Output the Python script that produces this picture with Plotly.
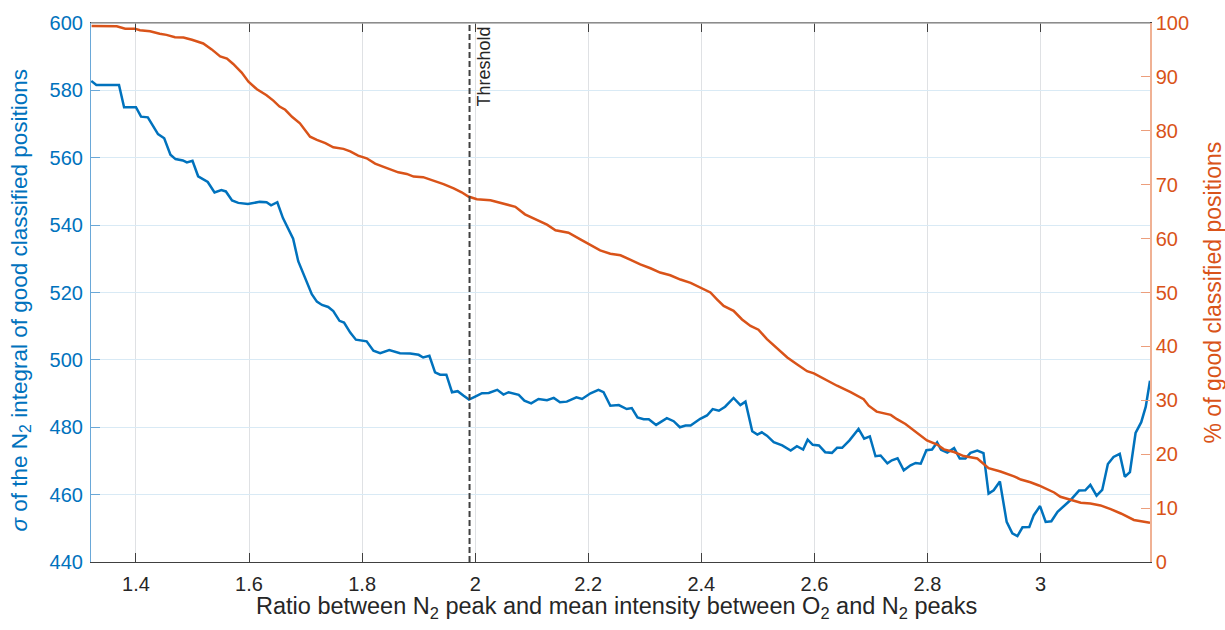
import plotly.graph_objects as go

# --- data -------------------------------------------------------------
# Ratio between N2 peak and mean intensity between O2 and N2 peaks
ratio_sigma = [
    1.321, 1.330, 1.370, 1.379, 1.400, 1.409, 1.421, 1.439, 1.450, 1.461,
    1.470, 1.483, 1.490, 1.500, 1.510, 1.527, 1.539, 1.551, 1.559, 1.570,
    1.581, 1.598, 1.619, 1.631, 1.639, 1.650, 1.660, 1.669, 1.678, 1.687,
    1.699, 1.711, 1.720, 1.729, 1.740, 1.749, 1.760, 1.768, 1.779, 1.789,
    1.808, 1.820, 1.832, 1.848, 1.867, 1.885, 1.900, 1.908, 1.919, 1.929,
    1.938, 1.949, 1.959, 1.969, 1.979, 1.989, 2.000, 2.012, 2.024, 2.039,
    2.050, 2.059, 2.077, 2.087, 2.099, 2.112, 2.127, 2.139, 2.150, 2.162,
    2.179, 2.189, 2.204, 2.218, 2.227, 2.239, 2.254, 2.268, 2.277, 2.287,
    2.298, 2.307, 2.320, 2.339, 2.351, 2.362, 2.372, 2.381, 2.398, 2.410,
    2.420, 2.431, 2.442, 2.457, 2.469, 2.478, 2.490, 2.499, 2.507, 2.516,
    2.528, 2.543, 2.558, 2.569, 2.580, 2.588, 2.597, 2.608, 2.619, 2.631,
    2.640, 2.649, 2.662, 2.678, 2.688, 2.698, 2.708, 2.717, 2.729, 2.737,
    2.747, 2.758, 2.770, 2.779, 2.788, 2.798, 2.808, 2.817, 2.824, 2.835,
    2.847, 2.857, 2.867, 2.876, 2.888, 2.899, 2.908, 2.917, 2.928, 2.940,
    2.950, 2.959, 2.968, 2.980, 2.988, 2.999, 3.009, 3.019, 3.030, 3.041,
    3.053, 3.068, 3.079, 3.088, 3.099, 3.109, 3.119, 3.129, 3.140, 3.149,
    3.158, 3.168, 3.178, 3.186, 3.1935,
]
# sigma of the N2 integral of good classified positions
sigma_n2 = [
    582.8, 581.6, 581.6, 575.0, 575.0, 572.2, 572.0, 567.0, 565.8, 560.9,
    559.6, 559.2, 558.6, 559.1, 554.5, 552.8, 549.7, 550.4, 550.0, 547.3,
    546.6, 546.3, 546.9, 546.8, 545.9, 546.8, 542.1, 539.2, 536.0, 529.3,
    524.4, 519.5, 517.3, 516.3, 515.7, 514.5, 511.6, 511.1, 508.1, 506.0,
    505.5, 502.7, 502.0, 502.9, 502.0, 501.9, 501.5, 500.7, 501.2, 496.3,
    495.6, 495.6, 490.4, 490.7, 489.4, 488.2, 489.1, 490.1, 490.2, 491.1,
    489.7, 490.4, 489.6, 487.9, 487.1, 488.4, 488.0, 488.7, 487.4, 487.6,
    488.9, 488.4, 490.1, 491.1, 490.4, 486.4, 486.6, 485.4, 485.7, 482.9,
    482.4, 482.4, 480.7, 482.7, 481.8, 480.0, 480.5, 480.5, 482.5, 483.5,
    485.4, 484.9, 486.1, 488.7, 486.6, 487.6, 478.8, 477.8, 478.5, 477.5,
    475.6, 474.6, 473.1, 474.4, 473.4, 476.3, 474.8, 474.6, 472.6, 472.4,
    473.9, 473.9, 476.1, 479.5, 476.6, 477.3, 471.4, 471.6, 469.3, 470.2,
    470.8, 467.2, 468.7, 469.4, 469.2, 473.2, 473.4, 475.5, 473.3, 472.5,
    473.8, 470.7, 470.7, 472.4, 473.1, 472.3, 460.3, 461.3, 463.9, 451.9,
    448.5, 447.7, 450.3, 450.4, 453.9, 456.6, 451.9, 452.1, 454.9, 456.5,
    458.4, 461.2, 461.3, 462.9, 459.7, 461.4, 469.1, 471.2, 472.1, 465.3,
    466.7, 478.3, 481.5, 486.1, 493.8,
]

ratio_good = [
    1.3216, 1.366, 1.381, 1.398, 1.407, 1.425, 1.442, 1.454, 1.469, 1.484,
    1.499, 1.519, 1.534, 1.549, 1.561, 1.572, 1.587, 1.599, 1.614, 1.631,
    1.643, 1.654, 1.664, 1.676, 1.690, 1.699, 1.708, 1.720, 1.735, 1.749,
    1.767, 1.779, 1.793, 1.808, 1.823, 1.838, 1.850, 1.864, 1.879, 1.891,
    1.908, 1.926, 1.944, 1.962, 1.976, 1.988, 2.003, 2.027, 2.050, 2.071,
    2.088, 2.109, 2.127, 2.142, 2.165, 2.186, 2.204, 2.221, 2.239, 2.257,
    2.274, 2.292, 2.310, 2.327, 2.345, 2.363, 2.381, 2.398, 2.416, 2.428,
    2.4395, 2.457, 2.472, 2.487, 2.501, 2.516, 2.534, 2.552, 2.569, 2.587,
    2.599, 2.616, 2.640, 2.664, 2.687, 2.696, 2.710, 2.735, 2.746, 2.761,
    2.779, 2.799, 2.817, 2.829, 2.847, 2.864, 2.888, 2.897, 2.908, 2.929,
    2.953, 2.965, 2.982, 2.997, 3.012, 3.024, 3.035, 3.053, 3.071, 3.088,
    3.106, 3.124, 3.142, 3.165, 3.1935,
]
# % of good classified positions
pct_good = [
    99.45, 99.4, 98.95, 98.95, 98.65, 98.46, 98.0, 97.8, 97.35, 97.3,
    96.9, 96.2, 95.1, 93.8, 93.4, 92.4, 90.8, 89.1, 87.7, 86.6,
    85.6, 84.5, 83.9, 82.6, 81.4, 80.2, 78.9, 78.3, 77.7, 76.95,
    76.65, 76.2, 75.4, 74.9, 73.9, 73.3, 72.9, 72.3, 72.0, 71.5,
    71.4, 70.8, 70.1, 69.3, 68.6, 67.8, 67.3, 67.1, 66.5, 65.9,
    64.5, 63.4, 62.6, 61.55, 61.1, 59.85, 58.8, 57.8, 57.2, 56.9,
    56.1, 55.2, 54.5, 53.7, 53.2, 52.4, 51.8, 50.9, 50.0, 48.7,
    47.5, 46.6, 45.0, 43.8, 43.1, 41.35, 39.7, 37.95, 36.7, 35.4,
    35.0, 34.0, 32.7, 31.5, 30.2, 29.0, 27.9, 27.3, 26.5, 25.6,
    24.1, 22.55, 21.8, 20.9, 20.4, 19.65, 19.2, 18.35, 17.4, 16.8,
    15.9, 15.3, 14.8, 14.2, 13.5, 12.9, 12.1, 11.6, 11.0, 10.85,
    10.5, 9.8, 9.0, 7.8, 7.3,
]

threshold = 1.99

x_ticks = [1.4, 1.6, 1.8, 2.0, 2.2, 2.4, 2.6, 2.8, 3.0]
x_tick_labels = ["1.4", "1.6", "1.8", "2", "2.2", "2.4", "2.6", "2.8", "3"]
y_left_ticks = [440, 460, 480, 500, 520, 540, 560, 580, 600]
y_right_ticks = [0, 10, 20, 30, 40, 50, 60, 70, 80, 90, 100]

# --- styling ----------------------------------------------------------
BLUE = "#0072BD"
ORANGE = "#D95319"
FONT = "Liberation Sans, Arial, sans-serif"
X_RANGE = [1.3205, 3.1935]

fig = go.Figure()

fig.add_trace(go.Scatter(
    x=ratio_sigma, y=sigma_n2, mode="lines",
    line=dict(color=BLUE, width=2.5), yaxis="y", showlegend=False,
))
fig.add_trace(go.Scatter(
    x=ratio_good, y=pct_good, mode="lines",
    line=dict(color=ORANGE, width=2.5), yaxis="y2", showlegend=False,
))

# threshold marker
fig.add_shape(
    type="line", xref="x", yref="paper", x0=threshold, x1=threshold, y0=0, y1=1,
    line=dict(color="#404040", width=2, dash="6px,3px"), layer="above",
)
fig.add_annotation(
    x=threshold, xref="x", y=1, yref="paper", text="Threshold",
    textangle=-90, showarrow=False, xanchor="left", yanchor="top",
    xshift=2, yshift=-2, font=dict(family=FONT, size=18, color="#262626"),
)

# top border of the box
fig.add_shape(
    type="line", xref="paper", yref="paper", x0=0, x1=1, y0=1, y1=1,
    line=dict(color="#a6a6a6", width=1.5), layer="above",
)

# axis titles
fig.add_annotation(
    xref="paper", yref="paper", x=0.5, y=0, yshift=-45, xshift=-4,
    text="Ratio between N<sub>2</sub> peak and mean intensity between O<sub>2</sub> and N<sub>2</sub> peaks",
    showarrow=False, xanchor="center", yanchor="middle",
    font=dict(family=FONT, size=23.5, color="#262626"),
)
fig.add_annotation(
    xref="paper", yref="paper", x=0, y=0.5, yshift=-8, xshift=-71,
    text="<i>σ</i> of the N<sub>2</sub> integral of good classified positions",
    textangle=-90, showarrow=False, xanchor="center", yanchor="middle",
    font=dict(family=FONT, size=22.5, color=BLUE),
)
fig.add_annotation(
    xref="paper", yref="paper", x=1, y=0.5, xshift=62,
    text="% of good classified positions",
    textangle=-90, showarrow=False, xanchor="center", yanchor="middle",
    font=dict(family=FONT, size=23, color=ORANGE),
)

fig.update_layout(
    width=1225, height=630,
    margin=dict(l=91, r=75, t=21, b=68),
    paper_bgcolor="white", plot_bgcolor="white",
    font=dict(family=FONT, size=20),
    xaxis=dict(
        range=X_RANGE, tickvals=x_ticks, ticktext=x_tick_labels,
        ticks="inside", ticklen=9, tickwidth=1, tickcolor="#404040",
        showline=True, linecolor="#404040", linewidth=1.2, mirror="ticks",
        showgrid=True, gridcolor="#dfe1e4", gridwidth=1, zeroline=False,
        ticklabelstandoff=4,
        tickfont=dict(family=FONT, size=20, color="#262626"),
    ),
    yaxis=dict(
        range=[440, 600], tickvals=y_left_ticks,
        ticks="inside", ticklen=9, tickwidth=1, tickcolor="#6aa8d8",
        showline=True, linecolor="#6aa8d8", linewidth=1.2,
        showgrid=True, gridcolor="#d9eaf5", gridwidth=1, zeroline=False,
        ticklabelstandoff=3,
        tickfont=dict(family=FONT, size=20, color=BLUE),
    ),
    yaxis2=dict(
        range=[0, 100], tickvals=y_right_ticks, overlaying="y", side="right",
        ticks="inside", ticklen=9, tickwidth=1, tickcolor="#ec9e7c",
        showline=True, linecolor="#f0b194", linewidth=1.5,
        showgrid=False, zeroline=False,
        tickfont=dict(family=FONT, size=20, color=ORANGE),
    ),
)

fig.write_html("out.html")
